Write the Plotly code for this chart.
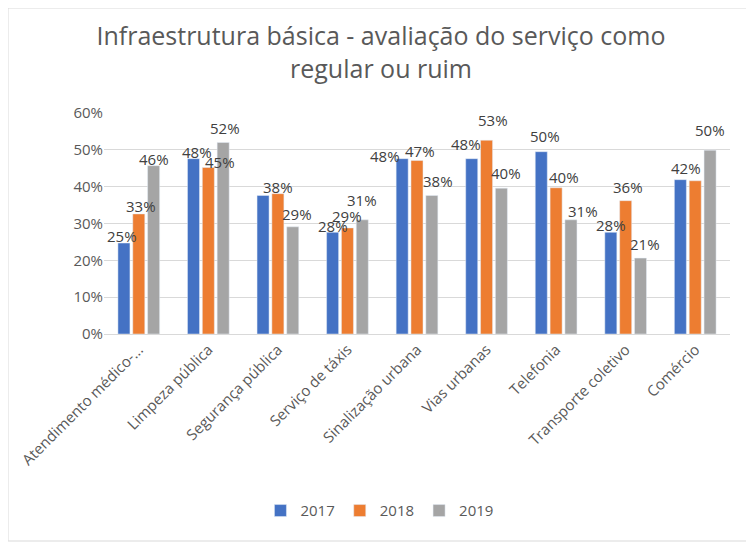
import plotly.graph_objects as go

categories = ["Atendimento médico-...", "Limpeza pública", "Segurança pública", "Serviço de táxis",
              "Sinalização urbana", "Vias urbanas", "Telefonia", "Transporte coletivo", "Comércio"]
v2017 = [0.247, 0.476, 0.376, 0.276, 0.476, 0.476, 0.495, 0.276, 0.419]
v2018 = [0.326, 0.452, 0.381, 0.288, 0.471, 0.526, 0.397, 0.362, 0.416]
v2019 = [0.457, 0.520, 0.291, 0.310, 0.376, 0.396, 0.310, 0.206, 0.499]
years = ["2017", "2018", "2019"]
series = [v2017, v2018, v2019]
colors = ["#4472C4", "#ED7D31", "#A5A5A5"]

# which data labels are shown (the reference hides the duplicate 38% and 42%)
show_label = [
    [True, True, False, True, True, True, True, True, True],
    [True, True, True, True, True, True, True, True, False],
    [True, True, True, True, True, True, True, True, True],
]
# small manual nudges of the labels (pixels), as in the reference
label_dx = [
    [-2, 3.5, 0, 0, -17, -6, 4, 0, 5.5],
    [2, 12, 0, 0, 3, 6.5, 7.5, 2.5, 0],
    [0, 1.5, 4, 0, 6.5, 5, 12.5, 4, 0],
]
label_gap = [
    [0, 0, 0, -1, -4, 8, 9, 0, 5],
    [1, -1, 0, 5, 3, 13, 4, 7, 0],
    [0, 7, 6, 13, 8, 8, 2, 7, 13],
]

FONT = "Open Sans"
TXT = "#595959"
BARGAP = 0.36

fig = go.Figure()
for name, vals, col in zip(years, series, colors):
    fig.add_trace(go.Bar(x=categories, y=vals, name=name, marker_color=col))

annotations = []
for k, vals in enumerate(series):
    off = (k - 1) * (1 - BARGAP) / 3
    for i, v in enumerate(vals):
        if not show_label[k][i]:
            continue
        annotations.append(dict(
            x=i + off, y=v, xref="x", yref="y", text=f"{v:.0%}", showarrow=False,
            xanchor="center", yanchor="bottom",
            xshift=label_dx[k][i], yshift=label_gap[k][i] - 5,
            font=dict(family=FONT, size=15, color="#404040"),
        ))

W, H = 746, 534
L, T, R = 96, 105, 24
PW, PH = W - L - R, 221
B = H - T - PH

fig.update_layout(
    width=W, height=H,
    paper_bgcolor="white", plot_bgcolor="white",
    margin=dict(l=L, r=R, t=T, b=B),
    barmode="group", bargap=BARGAP, bargroupgap=0.19,
    title=dict(text="Infraestrutura básica - avaliação do serviço como<br>regular ou ruim",
               x=0.5, xanchor="center", y=0.93, yanchor="top",
               font=dict(family=FONT, size=25, color=TXT)),
    legend=dict(orientation="h", x=0.44, xanchor="center", y=-0.80, yanchor="middle",
                font=dict(family=FONT, size=15, color=TXT)),
    font=dict(family=FONT, color=TXT),
    annotations=annotations,
    shapes=[dict(type="rect", xref="paper", yref="paper", x0=-L/PW, x1=1+(R-1)/PW,
                 y0=-(B-1)/PH, y1=1+T/PH, line=dict(color="#D9D9D9", width=1))],
)
fig.update_yaxes(range=[0, 0.6], dtick=0.1, tickformat=".0%", gridcolor="#D9D9D9",
                 zeroline=False, showline=False, ticks="", automargin=False,
                 tickfont=dict(family=FONT, size=15, color=TXT))
fig.update_xaxes(tickangle=-45, showline=True, linecolor="#D9D9D9", ticks="", automargin=False,
                 tickfont=dict(family=FONT, size=15, color=TXT))

fig.write_html("out.html")
